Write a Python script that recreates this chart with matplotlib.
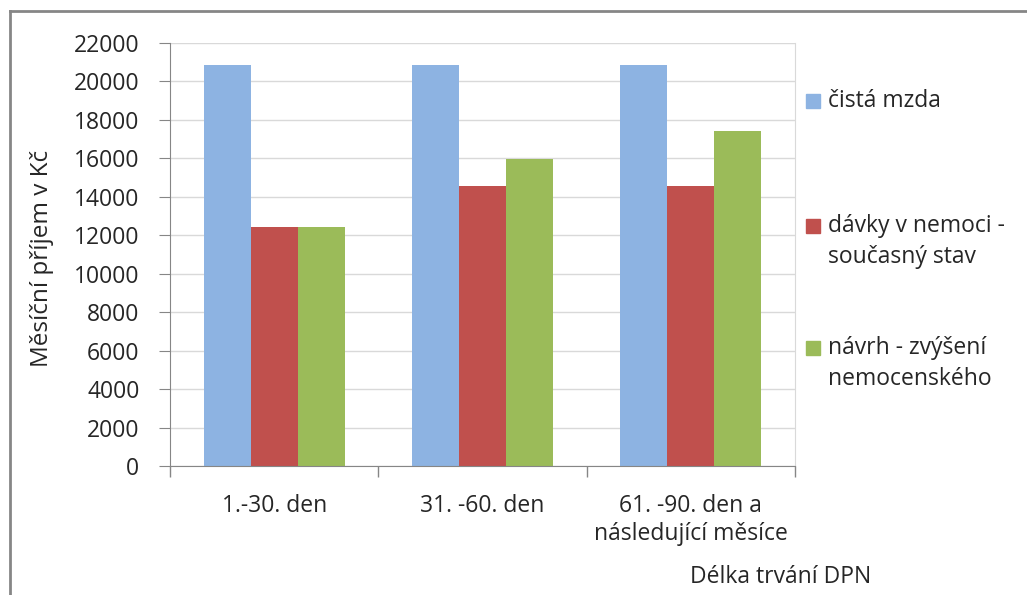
import numpy as np
import matplotlib.pyplot as plt
from matplotlib.patches import Rectangle
from matplotlib.lines import Line2D

plt.rcParams['font.family'] = ['Open Sans', 'DejaVu Sans']

kategorie = ['1.-30. den', '31. -60. den', '61. -90. den a\nnásledující měsíce']
serie = ['čistá mzda', 'dávky v nemoci -\nsoučasný stav', 'návrh - zvýšení\nnemocenského']
cista_mzda = [20850, 20850, 20850]
davky_soucasne = [12430, 14560, 14560]
navrh_zvyseni = [12430, 15970, 17430]
barvy = ['#8DB3E2', '#C0504D', '#9BBB59']
y_ticky = list(range(0, 22001, 2000))

W, H = 1027, 595
fig = plt.figure(figsize=(W / 100, H / 100), dpi=100)
ax = fig.add_axes([170 / W, 1 - 466 / H, (795 - 170) / W, (466 - 43) / H])

x = np.arange(len(kategorie))
sirka = 0.226
hodnoty = [cista_mzda, davky_soucasne, navrh_zvyseni]
for i, (h, c) in enumerate(zip(hodnoty, barvy)):
    ax.bar(x + (i - 1) * sirka, h, sirka, color=c, zorder=2)

fs = 16.5
ax.set_xlim(-0.5, len(kategorie) - 0.5)
ax.set_ylim(0, 22000)
ax.set_yticks(y_ticky)
ax.set_yticklabels([str(v) for v in y_ticky])
ax.set_xticks(x)
ax.set_xticklabels(kategorie, linespacing=1.25)
ax.set_xticks(np.arange(-0.5, len(kategorie)), minor=True)
ax.tick_params(axis='x', which='major', length=0, pad=20, labelsize=fs, colors='#262626')
ax.tick_params(axis='x', which='minor', length=8, color='#868686', width=1)
ax.tick_params(axis='y', length=8, color='#868686', pad=14, labelsize=fs, labelcolor='#262626')
ax.yaxis.grid(True, color='#D9D9D9', lw=1, zorder=0)

ax.spines['top'].set_visible(False)
ax.spines['left'].set_color('#868686')
ax.spines['bottom'].set_color('#868686')
ax.spines['right'].set_color('#D9D9D9')

fig.text(42 / W, 1 - 258 / H, 'Měsíční příjem v Kč', rotation=90, ha='center', va='center',
         fontsize=17.5, color='#262626')
fig.text(781 / W, 1 - 577 / H, 'Délka trvání DPN', ha='center', va='center',
         fontsize=fs, color='#262626')

# legenda
legenda_y = [101, 226, 348]
for nazev, c, ly in zip(serie, barvy, legenda_y):
    fig.patches.append(Rectangle((806 / W, 1 - (ly + 7) / H), 14 / W, 14 / H,
                                 transform=fig.transFigure, color=c))
    for j, radek in enumerate(nazev.split('\n')):
        fig.text(828 / W, 1 - (ly + j * 31) / H, radek, ha='left', va='center',
                 fontsize=fs, color='#262626')

# ramecek grafu
fig.add_artist(Line2D([9.5 / W, 1], [1 - 11 / H, 1 - 11 / H], transform=fig.transFigure,
                      color='#868686', lw=2))
fig.add_artist(Line2D([9.5 / W, 9.5 / W], [0, 1 - 11 / H], transform=fig.transFigure,
                      color='#868686', lw=2))

fig.savefig('out.png', dpi=100)
